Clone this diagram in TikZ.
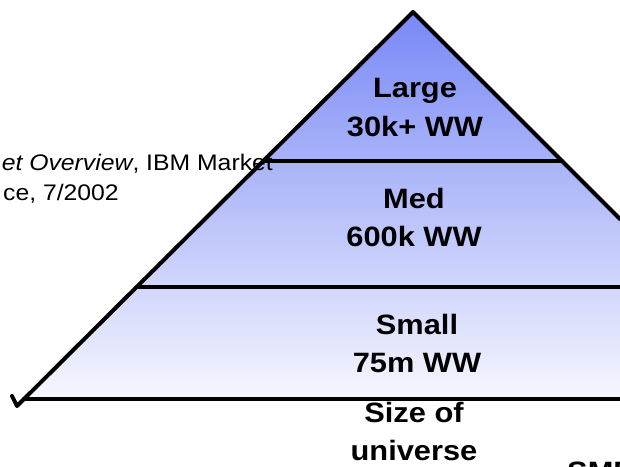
\documentclass[tikz,border=0pt]{standalone}
\usepackage{fontspec}
\setmainfont{Liberation Sans}
\begin{document}
\begin{tikzpicture}[x=1pt,y=-1pt,
  edge/.style={line width=4pt,line join=round,line cap=round},
  lbl/.style={font=\fontsize{28}{38.5}\selectfont\bfseries,align=center,xscale=1.1,inner sep=0pt},
  srcline/.style={font=\fontsize{22.5}{30}\selectfont,xscale=1.1,inner sep=0pt,anchor=base east}]
\useasboundingbox (0,0) rectangle (620,466);
\clip (0,0) rectangle (620,466);
\definecolor{topblue}{RGB}{120,136,246}
\definecolor{botblue}{RGB}{246,247,254}
% corners
\coordinate (apex) at (413,12);
\coordinate (bl) at (17,406);
\coordinate (tick) at (12,396);
\coordinate (br) at (620,399);
\coordinate (rr) at (620,219);
\coordinate (d1l) at (264,161);
\coordinate (d1r) at (562,161);
\coordinate (d2l) at (137,287);
\coordinate (d2r) at (620,287);
\coordinate (bbl) at (24,399);
% fill
\shade[top color=topblue,bottom color=botblue] (apex) -- (rr) -- (br) -- (bbl) -- cycle;
% lines
\draw[edge] (tick) -- (bl) -- (apex) -- (rr);
\draw[edge] (d1l) -- (d1r);
\draw[edge] (d2l) -- (d2r);
\draw[edge,line width=4.4pt] (bbl) -- (br);
% labels (base = baseline of last line)
\node[lbl,anchor=base] (large) at (415,136) {Large\\30k+ WW};
\node[lbl,anchor=base] (med) at (414,246.7) {Med\\600k WW};
\node[lbl,anchor=base] (small) at (417,372.7) {Small\\75m WW};
\node[lbl,anchor=base] (size) at (414,460.5) {Size of\\universe};
\node[lbl,anchor=base west] (smb) at (567,481) {SMB};
% source text
\node[srcline] (src1) at (273,170) {\textit{et Overview}, IBM Market};
\node[srcline] (src2) at (119,200) {ce, 7/2002};
\end{tikzpicture}
\end{document}
